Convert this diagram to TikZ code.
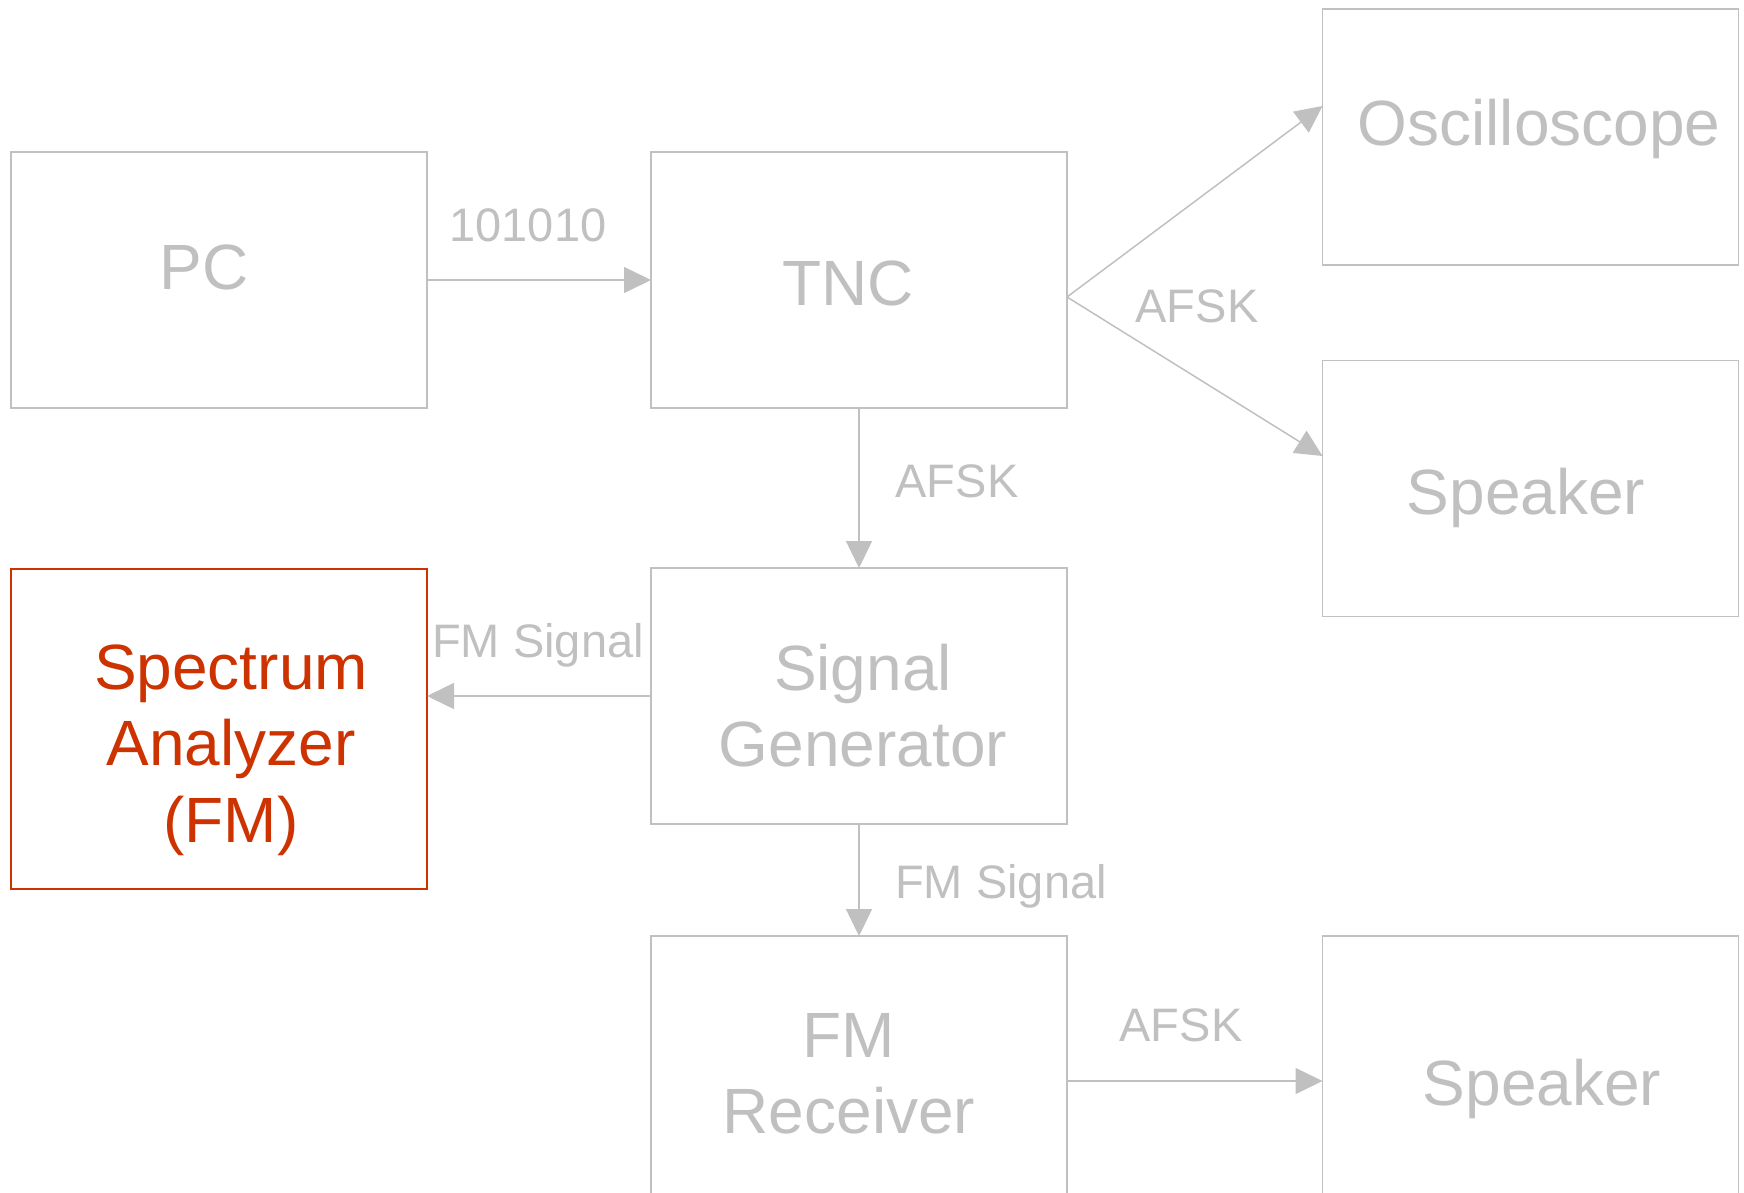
\documentclass[tikz,border=0pt]{standalone}
\usepackage{fontspec}
\setmainfont{Liberation Sans}
\usetikzlibrary{arrows.meta}
\definecolor{linegray}{RGB}{192,192,192}
\definecolor{hired}{RGB}{204,51,0}
\tikzset{
  box/.style={draw=linegray, line width=1.5pt, minimum width=416pt, minimum height=256pt, inner sep=0pt, outer sep=0pt},
  hibox/.style={box, draw=hired},
  boxtext/.style={text=linegray, anchor=base, inner sep=0pt, font=\fontsize{64}{77}\selectfont},
  hitext/.style={boxtext, text=hired},
  lbl/.style={text=linegray, anchor=base, inner sep=0pt, font=\fontsize{47}{56}\selectfont},
  conn/.style={draw=linegray, line width=1.5pt, -{Triangle[length=27pt,width=26pt]}}
}
\begin{document}
\begin{tikzpicture}[x=1pt,y=-1pt]
\useasboundingbox (0,0) rectangle (1744,1192);
\clip (0,0) rectangle (1744,1192);

% blocks
\node[box]   (pc)   at (219,280)    {};
\node[box]   (tnc)  at (859,280)    {};
\node[box]   (osc)  at (1530.5,137) {};
\node[box]   (spk1) at (1530.5,488.5) {};
\node[hibox, minimum height=320pt] (sa) at (219,729) {};
\node[box]   (sg)   at (859,696)    {};
\node[box, minimum height=264pt] (fmr)  at (859,1068)   {};
\node[box, minimum height=264pt] (spk2) at (1530.5,1068) {};

% block captions
\node[boxtext] (pcT)   at (204,289)  {PC};
\node[boxtext] (tncT)  at (848,305)  {TNC};
\node[boxtext] (oscT)  at (1539,145) {Oscilloscope};
\node[boxtext] (spk1T) at (1526,514) {Speaker};
\node[hitext]  (saT1)  at (231,689)  {Spectrum};
\node[hitext]  (saT2)  at (231,765)  {Analyzer};
\node[hitext]  (saT3)  at (231,842)  {(FM)};
\node[boxtext] (sgT1)  at (863,690)  {Signal};
\node[boxtext] (sgT2)  at (863,766)  {Generator};
\node[boxtext] (fmrT1) at (849,1057) {FM};
\node[boxtext] (fmrT2) at (849,1133) {Receiver};
\node[boxtext] (spk2T) at (1542,1105) {Speaker};

% connectors
\coordinate (fork)   at ([yshift=-17pt]tnc.east);
\coordinate (oscIn)  at ([yshift=31pt]osc.west);
\coordinate (spkIn)  at ([yshift=32.5pt]spk1.west);
\coordinate (sgOut)  at (sg.west);
\coordinate (rxOut)  at ([yshift=-13pt]fmr.east);

\draw[conn] (pc.east) -- (tnc.west);
\draw[conn] (fork) -- (oscIn);
\draw[conn] (fork) -- (spkIn);
\draw[conn] (tnc.south) -- (sg.north);
\draw[conn] (sgOut) -- (sgOut -| sa.east);
\draw[conn] (sg.south) -- (fmr.north);
\draw[conn] (rxOut) -- (rxOut -| spk2.west);

% connector labels
\node[lbl] (l1) at (528,241)  {101010};
\node[lbl] (l2) at (1197,322) {AFSK};
\node[lbl] (l3) at (957,497)  {AFSK};
\node[lbl] (l4) at (538,657)  {FM Signal};
\node[lbl] (l5) at (1001,898) {FM Signal};
\node[lbl] (l6) at (1181,1041) {AFSK};
\end{tikzpicture}
\end{document}
